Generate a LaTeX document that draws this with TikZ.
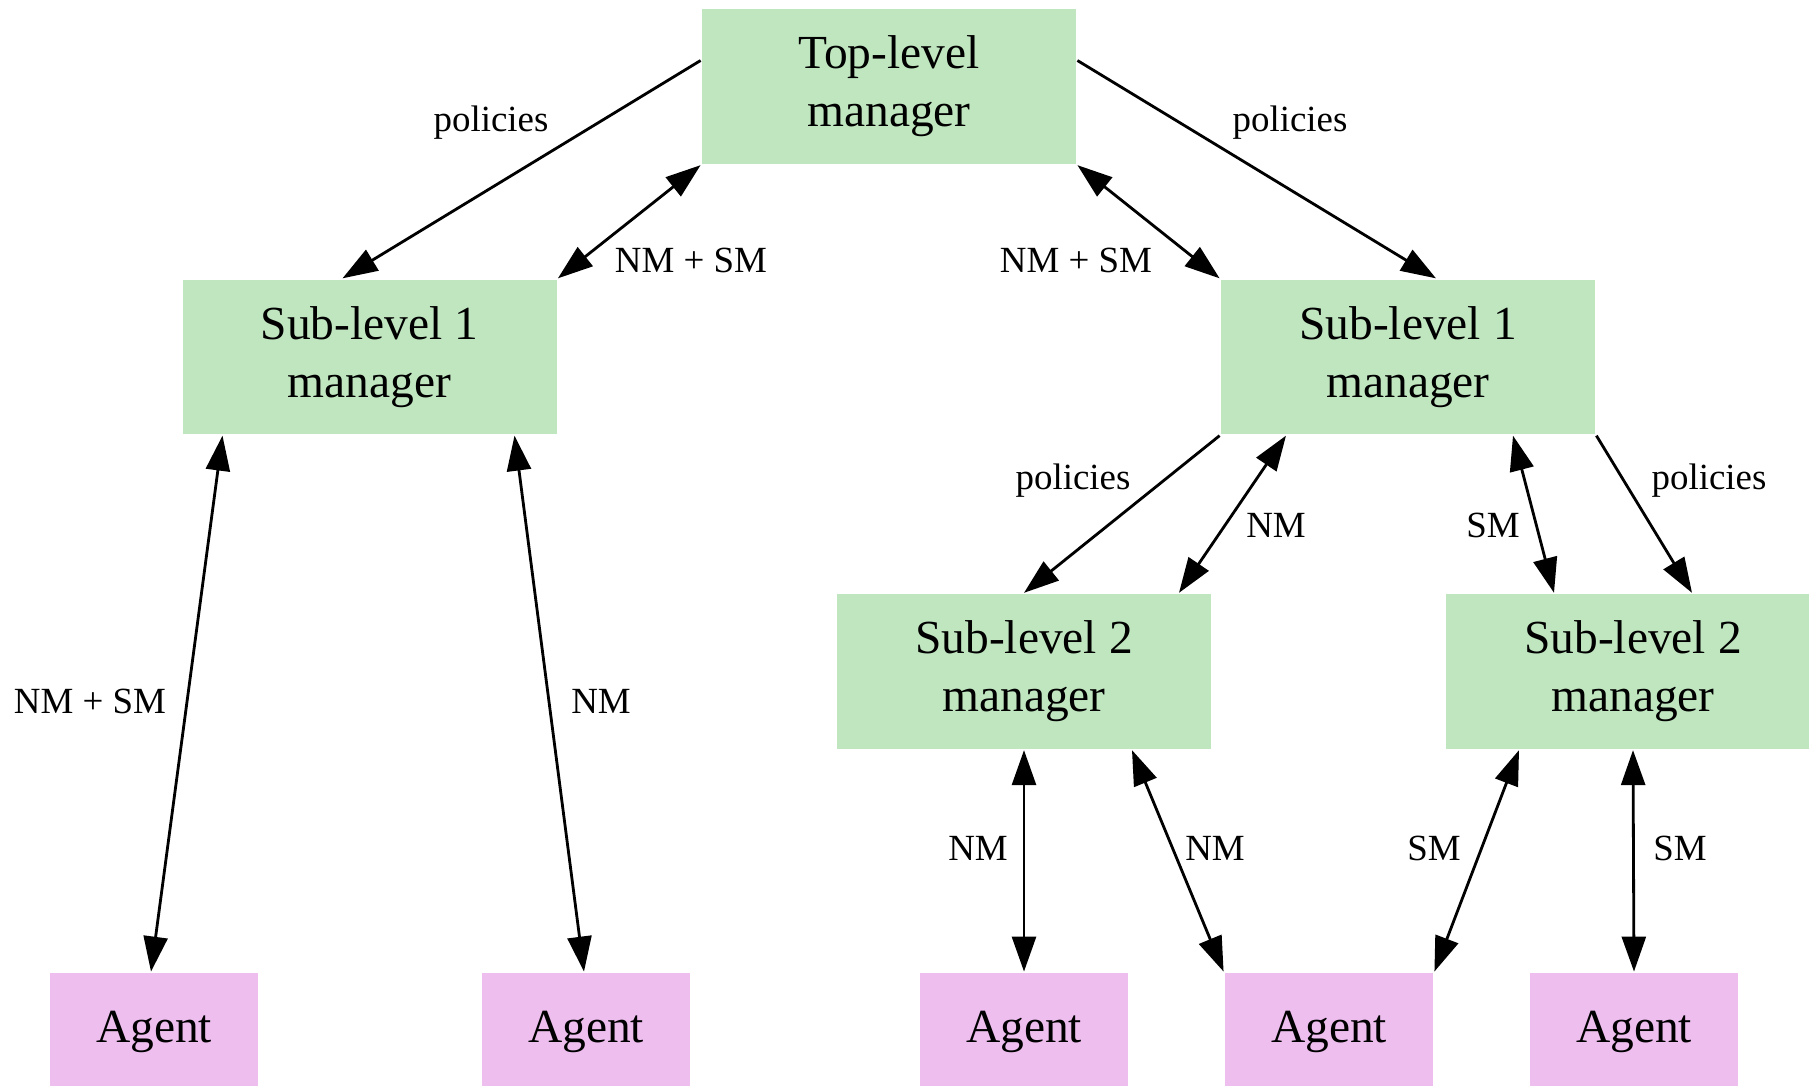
\documentclass[tikz,border=0pt]{standalone}
\usepackage{fontspec}
\setmainfont{Liberation Serif}
\usepackage{tikz}
\usepackage{xcolor}
\usetikzlibrary{arrows.meta, calc, positioning}

\definecolor{mgrgreen}{RGB}{192,230,192}
\definecolor{agentpink}{RGB}{238,190,238}

\begin{document}
\begin{tikzpicture}[
    >={Triangle[length=0.35cm,width=0.24cm]},
    line width=0.8pt,
    mgr/.style={fill=mgrgreen, minimum width=3.74cm, minimum height=1.545cm, inner sep=0pt,
        align=center, font=\fontsize{13.5}{16.5}\selectfont},
    agent/.style={fill=agentpink, minimum width=2.08cm, minimum height=1.18cm, inner sep=0pt,
        font=\fontsize{13.5}{16.5}\selectfont},
    lbl/.style={inner sep=0pt, font=\fontsize{10.5}{12}\selectfont}
]
                        \useasboundingbox (0,0) rectangle (18.09,-10.86);
                        \node[mgr] (top) at (8.89, -0.865) {Top-level\\manager};
                        \node[mgr] (s1a) at (3.695, -3.57) {Sub-level 1\\manager};
                        \node[mgr] (s1b) at (14.08, -3.57) {Sub-level 1\\manager};
                        \node[mgr] (s2a) at (10.24, -6.715) {Sub-level 2\\manager};
                        \node[mgr] (s2b) at (16.33, -6.715) {Sub-level 2\\manager};
                        \node[agent] (ag1) at (1.54, -10.32) {Agent};
                        \node[agent] (ag2) at (5.86, -10.32) {Agent};
                        \node[agent] (ag3) at (10.24, -10.32) {Agent};
                        \node[agent] (ag4) at (13.29, -10.32) {Agent};
                        \node[agent] (ag5) at (16.34, -10.32) {Agent};
                        \node[lbl] (p1) at (4.91, -1.23) {policies};
                        \node[lbl] (p2) at (12.90, -1.23) {policies};
                        \node[lbl] (p3) at (10.73, -4.81) {policies};
                        \node[lbl] (p4) at (17.09, -4.81) {policies};
                        \node[lbl] (b1) at (6.91, -2.60) {NM + SM};
                        \node[lbl] (b2) at (10.76, -2.60) {NM + SM};
                        \node[lbl] (b3) at (0.90, -7.01) {NM + SM};
                        \node[lbl] (n1) at (6.01, -7.01) {NM};
                        \node[lbl] (n2) at (12.76, -5.25) {NM};
                        \node[lbl] (n3) at (9.78, -8.48) {NM};
                        \node[lbl] (n4) at (12.15, -8.48) {NM};
                        \node[lbl] (m1) at (14.93, -5.25) {SM};
                        \node[lbl] (m2) at (14.34, -8.48) {SM};
                        \node[lbl] (m3) at (16.80, -8.48) {SM};
                        \draw
                        ([yshift=0.26cm]top.west) edge[->] ([xshift=-0.27cm]s1a.north)
                        (s1a.north east) edge[<->] (top.south west)
                        ([yshift=0.26cm]top.east) edge[->] ([xshift=0.28cm]s1b.north)
                        (top.south east) edge[<->] (s1b.north west)
                        ([xshift=-1.47cm]s1a.south) edge[<->] ([xshift=-0.03cm]ag1.north)
                        ([xshift=1.45cm]s1a.south) edge[<->] ([xshift=-0.02cm]ag2.north)
                        (s1b.south west) edge[->] (s2a.north)
                        ([xshift=-1.22cm]s1b.south) edge[<->] ([xshift=1.55cm]s2a.north)
                        ([xshift=1.05cm]s1b.south) edge[<->] ([xshift=-0.79cm]s2b.north)
                        (s1b.south east) edge[->] ([xshift=0.59cm]s2b.north)
                        (s2a.south) edge[<->] (ag3.north)
                        ([xshift=1.08cm]s2a.south) edge[<->] (ag4.north west)
                        ([xshift=-1.14cm]s2b.south) edge[<->] (ag4.north east)
                        (s2b.south) edge[<->] (ag5.north);
                    \end{tikzpicture}
\end{document}
